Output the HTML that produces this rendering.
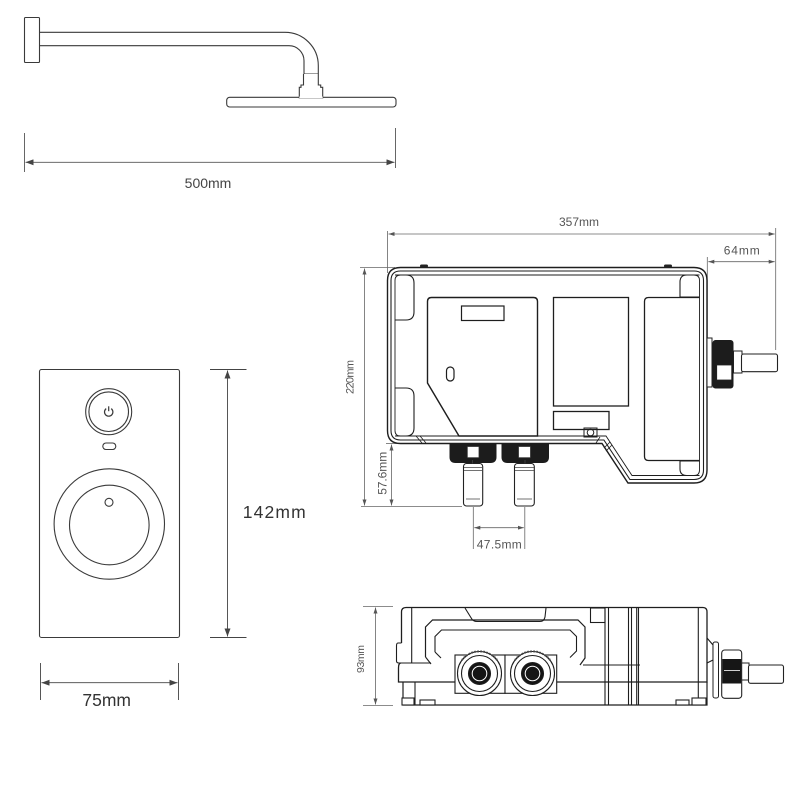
<!DOCTYPE html>
<html><head><meta charset="utf-8"><style>
html,body{margin:0;padding:0;background:#fff;}
svg{display:block;}
text{font-family:"Liberation Sans",sans-serif;}
</style></head><body>
<svg width="800" height="800" viewBox="0 0 800 800" xmlns="http://www.w3.org/2000/svg">
<defs>
<marker id="a" viewBox="0 0 8 6" refX="8" refY="3" markerWidth="8" markerHeight="6" markerUnits="userSpaceOnUse" orient="auto-start-reverse"><path d="M0,0 L8,3 L0,6 z" fill="#444"/></marker>
<marker id="s" viewBox="0 0 6 4" refX="6" refY="2" markerWidth="6" markerHeight="4" markerUnits="userSpaceOnUse" orient="auto-start-reverse"><path d="M0,0 L6,2 L0,4 z" fill="#555"/></marker>
</defs>
<rect width="800" height="800" fill="#fff"/>

<!-- ===== Shower arm ===== -->
<g fill="none" stroke="#3a3a3a" stroke-width="1.1">
<rect x="24.5" y="17.5" width="15" height="45" rx="1"/>
<path d="M40,32.3 H285 A33.3,33.3 0 0 1 318.3,65.6 V74"/>
<path d="M40,45.7 H289 A15,15 0 0 1 304,60.7 V74"/>
<rect x="226.7" y="97.3" width="169.3" height="9.7" rx="3"/>
<path d="M303.5,74 H318.3 M303.5,77.5 H318.3" />
<path d="M303.5,74 V85 H301 V87.3 H299.3 V97.8 H322.7 V87.3 H320.7 V85 H318.3 V74" fill="#fff"/>
<path d="M299.3,97.3 H322.7" stroke="#fff" stroke-width="1.6"/>
</g>
<g stroke="#555" stroke-width="0.9" fill="none">
<line x1="24.5" y1="133" x2="24.5" y2="172"/>
<line x1="395.5" y1="128" x2="395.5" y2="168"/>
<line x1="25.5" y1="162.3" x2="394.5" y2="162.3" marker-start="url(#a)" marker-end="url(#a)"/>
</g>
<text x="208" y="188" font-size="14" fill="#444" text-anchor="middle">500mm</text>

<!-- ===== Control panel ===== -->
<g fill="none" stroke="#3a3a3a" stroke-width="1.1">
<rect x="39.5" y="369.5" width="140" height="268" rx="2"/>
<circle cx="108.7" cy="411.7" r="23"/>
<circle cx="108.7" cy="411.7" r="19.8"/>
<path d="M106.2,408.6 A4.2,4.2 0 1 0 111.2,408.6" stroke-width="1.2"/>
<line x1="108.7" y1="406.3" x2="108.7" y2="411.2" stroke-width="1.2"/>
<rect x="102.8" y="443" width="13" height="6.5" rx="3.2"/>
<circle cx="109.3" cy="524" r="55.2"/>
<circle cx="109.3" cy="525" r="39.8"/>
<circle cx="109" cy="502.3" r="4"/>
</g>
<g stroke="#444" stroke-width="0.9" fill="none">
<line x1="210" y1="369.5" x2="246.5" y2="369.5"/>
<line x1="210" y1="637.5" x2="246.5" y2="637.5"/>
<line x1="227.5" y1="370.5" x2="227.5" y2="636.5" marker-start="url(#a)" marker-end="url(#a)"/>
<line x1="40.5" y1="663" x2="40.5" y2="700"/>
<line x1="178.5" y1="663" x2="178.5" y2="700"/>
<line x1="41.5" y1="682.7" x2="177.5" y2="682.7" marker-start="url(#a)" marker-end="url(#a)"/>
</g>
<text x="242.7" y="518" font-size="17.5" fill="#333" textLength="63">142mm</text>
<text x="106.7" y="706" font-size="17.5" fill="#333" text-anchor="middle">75mm</text>

<!-- ===== Main unit (front) ===== -->
<g stroke="#666" stroke-width="0.8" fill="none">
<line x1="387.5" y1="231" x2="387.5" y2="273"/>
<line x1="775.7" y1="228" x2="775.7" y2="350"/>
<line x1="388.5" y1="234" x2="774.7" y2="234" marker-start="url(#s)" marker-end="url(#s)"/>
<line x1="707.3" y1="257" x2="707.3" y2="340"/>
<line x1="708.3" y1="261.7" x2="774.7" y2="261.7" marker-start="url(#s)" marker-end="url(#s)"/>
<line x1="360" y1="267.5" x2="395" y2="267.5"/>
<line x1="361" y1="506.5" x2="462" y2="506.5"/>
<line x1="364.5" y1="268.5" x2="364.5" y2="505.5" marker-start="url(#s)" marker-end="url(#s)"/>
<line x1="386" y1="443.5" x2="400" y2="443.5"/>
<line x1="391.5" y1="444.5" x2="391.5" y2="505.5" marker-start="url(#s)" marker-end="url(#s)"/>
<line x1="473.3" y1="507" x2="473.3" y2="549"/>
<line x1="524.8" y1="507" x2="524.8" y2="549"/>
<line x1="474.3" y1="527.7" x2="523.8" y2="527.7" marker-start="url(#s)" marker-end="url(#s)"/>
</g>
<text x="579" y="226" font-size="12" fill="#555" text-anchor="middle">357mm</text>
<text x="741.7" y="254.3" font-size="12" fill="#555" text-anchor="middle" textLength="36">64mm</text>
<text x="499.3" y="548.3" font-size="12" fill="#555" text-anchor="middle" textLength="45">47.5mm</text>
<text transform="translate(353.5,377) rotate(-90)" font-size="11" fill="#555" text-anchor="middle" textLength="34">220mm</text>
<text transform="translate(386.5,473.3) rotate(-90)" font-size="12" fill="#555" text-anchor="middle" textLength="43">57.6mm</text>

<!-- shell -->
<g fill="none" stroke="#1e1e1e">
<path stroke-width="1.4" d="M400.5,267.5 H694 Q707,267.5 707,280.5 V470 Q707,483 694,483 H628 L602,443.5 H400.5 Q387.5,443.5 387.5,430.5 V280.5 Q387.5,267.5 400.5,267.5 Z"/>
<path stroke-width="1.1" d="M400.5,271 H694 Q703.5,271 703.5,280.5 V470 Q703.5,479.5 694,479.5 H629.9 L603.9,440 H400.5 Q391,440 391,430.5 V280.5 Q391,271 400.5,271 Z"/>
<path stroke-width="0.9" d="M400.5,275 H694 Q699.5,275 699.5,280.5 V470 Q699.5,475.5 694,475.5 H632 L606,436 H400.5 Q395,436 395,430.5 V280.5 Q395,275 400.5,275 Z"/>
<!-- tabs -->
<path stroke-width="1.1" d="M395,275 H406 Q414,275 414,283 V312 Q414,320 406,320 H395"/>
<path stroke-width="1.1" d="M395,436 H406 Q414,436 414,428 V396 Q414,388 406,388 H395"/>
<path stroke-width="1.1" d="M699.5,297 H680 V282 Q680,275 687,275 H699.5"/>
<path stroke-width="1.1" d="M699.5,461 H680 V469 Q680,475.5 687,475.5 H699.5"/>
<!-- left module -->
<path stroke-width="1.4" d="M427.5,301.5 Q427.5,297.5 431.5,297.5 H533.5 Q537.5,297.5 537.5,301.5 V436 H459 L427.5,383 Z"/>
<rect stroke-width="1.2" x="461.5" y="306" width="42.5" height="14.5"/>
<rect stroke-width="1.2" x="446.5" y="367" width="7.5" height="14" rx="3.7"/>
<!-- middle -->
<rect stroke-width="1.3" x="553.5" y="297.5" width="75" height="108.5"/>
<rect stroke-width="1.3" x="553.5" y="411.5" width="55.5" height="18"/>
<rect stroke-width="1" x="584" y="428" width="13" height="9"/>
<circle stroke-width="1" cx="590.5" cy="432.5" r="3.3"/>
<!-- right module -->
<path stroke-width="1.3" d="M699.5,297.5 H648.5 Q644.5,297.5 644.5,301.5 V456.5 Q644.5,460.5 648.5,460.5 H699.5"/>
<!-- hatch bits -->
<path stroke-width="0.8" d="M416,436 L422,443 M420,436 L426,443 M600,437 L596,443 M610,442 L604,448 M612,445 L606,451"/>
</g>
<rect x="420" y="264.5" width="8" height="3" rx="1.5" fill="#222"/>
<rect x="664" y="264.5" width="8" height="3" rx="1.5" fill="#222"/>

<!-- bottom fittings -->
<path d="M449.5,443.5 H496.5 V457 Q496.5,463 490.5,463 H455.5 Q449.5,463 449.5,457 Z" fill="#1c1c1c"/>
<path d="M501.5,443.5 H549 V457 Q549,463 543,463 H507.5 Q501.5,463 501.5,457 Z" fill="#1c1c1c"/>
<rect x="467.3" y="446.5" width="11.7" height="11.2" fill="#fff" stroke="#333" stroke-width="0.8"/>
<rect x="518.5" y="446.5" width="12" height="11.2" fill="#fff" stroke="#333" stroke-width="0.8"/>
<g fill="#fff" stroke="#222" stroke-width="1.1">
<rect x="463.5" y="463.5" width="19.2" height="42.5" rx="3"/>
<rect x="514.5" y="463.5" width="19.8" height="42.5" rx="3"/>
</g>
<g stroke="#444" stroke-width="0.8" fill="none">
<path d="M464,467.5 H482 M464,470.5 H482 M515,467.5 H534 M515,470.5 H534 M466,499 H480 M517,499 H532"/>
<path d="M472.5,463.5 V460 M525,463.5 V460"/>
</g>

<!-- right outlet -->
<rect x="707" y="338" width="5" height="49" fill="#fff" stroke="#222" stroke-width="1"/>
<rect x="712.5" y="340" width="21" height="48.5" rx="3" fill="#1c1c1c"/>
<rect x="716.7" y="365" width="15" height="15" fill="#fff" stroke="#222" stroke-width="0.8"/>
<rect x="733.5" y="351" width="8.5" height="22" fill="#fff" stroke="#222" stroke-width="1"/>
<rect x="741.5" y="354" width="36" height="17.7" rx="2" fill="#fff" stroke="#222" stroke-width="1.1"/>

<!-- ===== Bottom view ===== -->
<g stroke="#666" stroke-width="0.8" fill="none">
<line x1="363" y1="606.5" x2="393" y2="606.5"/>
<line x1="363" y1="705.5" x2="393" y2="705.5"/>
<line x1="375.5" y1="607.5" x2="375.5" y2="704.5" marker-start="url(#s)" marker-end="url(#s)"/>
</g>
<text transform="translate(364,659) rotate(-90)" font-size="10.5" fill="#555" text-anchor="middle" textLength="28">93mm</text>

<g fill="none" stroke="#1e1e1e" stroke-width="1.1">
<!-- lid -->
<path stroke-width="1.3" d="M401.5,643 V612 Q401.5,607.5 406,607.5 H703 Q707,607.5 707,612 V682 H398.5 V668 Q398.5,663 401,663"/>
<path d="M401.5,643 H398 Q396.5,643 396.5,646 V661 Q396.5,663 399,663 H431"/>
<!-- base -->
<path stroke-width="1.2" d="M403,682 V705 H707 V682"/>
<line x1="411.7" y1="608" x2="411.7" y2="663"/>
<line x1="415" y1="682" x2="415" y2="705"/>
<path d="M605,608 V705 M608.5,608 V705 M628.5,608 V705 M631.5,608 V705 M636.7,608 V705 M638.5,608 V705 M698.3,608 V705"/>
<path d="M583,665 H640"/>
<!-- feet -->
<rect x="402" y="698" width="12" height="7" fill="#fff"/>
<rect x="420" y="700" width="15" height="5" fill="#fff"/>
<rect x="676" y="700" width="13" height="5" fill="#fff"/>
<rect x="692" y="698" width="14" height="7" fill="#fff"/>
<!-- top hump / square -->
<path d="M465,608 L471.5,618.5 Q473,621.5 477,621.5 H540 Q544,621.5 545,617 L546,608"/>
<rect x="590.5" y="608" width="14.5" height="14.5"/>
<!-- U channel -->
<path stroke-width="1.2" d="M425.5,657 V627 L432.5,620 H578 L585,627 V658 L580,665"/>
<path d="M425.5,657 L431,664"/>
<path d="M435,652 V636.5 L441.5,630 H570 L576.5,636.5 V651 L570,657.5"/>
<path d="M435,652 L441,658"/>
<!-- right protrusion -->
<path d="M707,638 L713,645 V660 L707,663"/>
<!-- gland frames -->
<rect x="455" y="655" width="50" height="38.3" fill="#fff"/>
<rect x="505" y="655" width="51.7" height="38.3" fill="#fff"/>
</g>
<g stroke="#1e1e1e" stroke-width="1.1">
<circle cx="479.5" cy="673.5" r="22" fill="#fff"/>
<circle cx="479.5" cy="673.5" r="18" fill="none"/>
<circle cx="479.5" cy="673.5" r="11" fill="#141414"/>
<circle cx="532.5" cy="673.5" r="22" fill="#fff"/>
<circle cx="532.5" cy="673.5" r="18" fill="none"/>
<circle cx="532.5" cy="673.5" r="11" fill="#141414"/>
</g>
<circle cx="479.5" cy="673.5" r="7.3" fill="none" stroke="#fff" stroke-width="1"/>
<circle cx="532.5" cy="673.5" r="7.3" fill="none" stroke="#fff" stroke-width="1"/>
<g stroke="#444" stroke-width="0.7" fill="none">
<path d="M462,660 A22,22 0 0 1 497,660 M515,660 A22,22 0 0 1 550,660" stroke-dasharray="1.5,1.5" stroke-width="2"/>
</g>

<!-- bottom right outlet -->
<rect x="713" y="642" width="5.5" height="56" rx="2" fill="#fff" stroke="#222" stroke-width="1"/>
<rect x="721.7" y="650" width="20" height="48.3" rx="3" fill="#fff" stroke="#222" stroke-width="1.1"/>
<rect x="722.2" y="659" width="19" height="24.5" fill="#161616"/>
<line x1="724" y1="670.5" x2="740" y2="670.5" stroke="#fff" stroke-width="0.8"/>
<rect x="741.7" y="663" width="7.3" height="17" fill="#fff" stroke="#222" stroke-width="1"/>
<rect x="748.5" y="665" width="35" height="18.3" rx="2" fill="#fff" stroke="#222" stroke-width="1.1"/>
</svg>
</body></html>
